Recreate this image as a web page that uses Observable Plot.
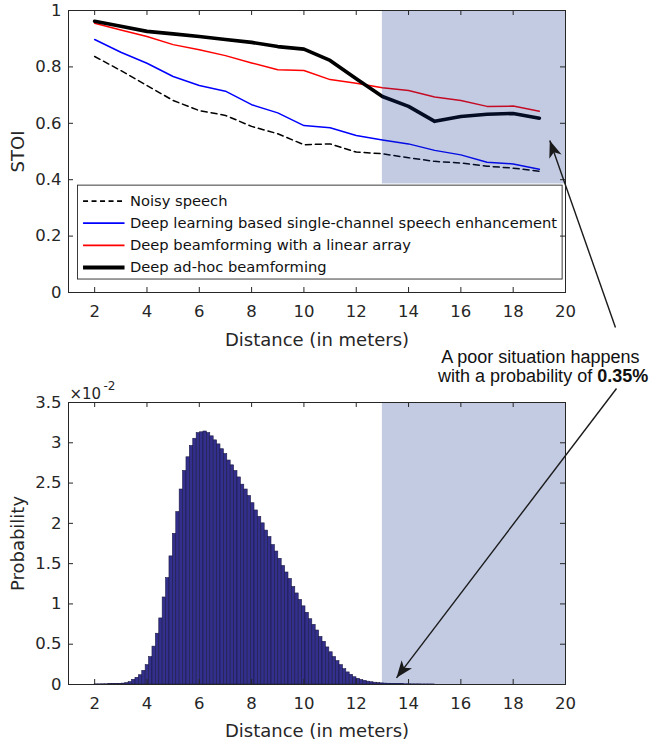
<!DOCTYPE html>
<html><head><meta charset="utf-8">
<script src="https://cdn.jsdelivr.net/npm/d3@7"></script>
<script src="https://cdn.jsdelivr.net/npm/@observablehq/plot@0.6"></script>
<style>
body{margin:0;background:#fff;}
#fig{position:relative;width:650px;height:741px;background:#fff;}
#fig svg{display:block;}
</style></head><body><div id="fig"></div>
<script>
// ---------- data ----------
const distances = [2,3,4,5,6,7,8,9,10,11,12,13,14,15,16,17,18,19];
const noisySpeech   = [0.837,0.787,0.734,0.681,0.645,0.628,0.589,0.563,0.524,0.527,0.498,0.492,0.478,0.465,0.459,0.448,0.441,0.430];
const singleChannel = [0.897,0.852,0.813,0.766,0.734,0.714,0.666,0.637,0.592,0.584,0.557,0.541,0.527,0.504,0.488,0.462,0.456,0.437];
const linearArray   = [0.955,0.931,0.908,0.879,0.861,0.840,0.814,0.790,0.787,0.755,0.742,0.726,0.716,0.693,0.681,0.660,0.661,0.643];
const adHoc         = [0.962,0.944,0.926,0.917,0.908,0.897,0.887,0.872,0.863,0.823,0.758,0.695,0.660,0.607,0.624,0.632,0.635,0.618];
const seriesNames = ["Noisy speech","Deep learning based single-channel speech enhancement","Deep beamforming with a linear array","Deep ad-hoc beamforming"];

const xTicks = [2,4,6,8,10,12,14,16,18,20];
const stoiTicks = [0,0.2,0.4,0.6,0.8,1];
const probTicks = [0,0.5,1,1.5,2,2.5,3,3.5];

// histogram of distances (probability, in units of 10^-2), bins of width 0.13 starting at 2
const binStart = 2, binWidth = 0.13;
const probability = [
0.002,0.002,0.003,0.003,0.004,0.005,0.006,0.008,0.011,0.017,
0.029,0.058,0.083,0.115,0.17,0.24,0.34,0.47,0.63,0.82,
1.08,1.32,1.59,1.87,2.14,2.42,2.65,2.82,2.96,3.05,
3.12,3.13,3.14,3.12,3.08,3.03,2.98,2.92,2.86,2.78,
2.72,2.65,2.57,2.48,2.42,2.34,2.25,2.16,2.08,2.00,
1.91,1.83,1.73,1.65,1.56,1.47,1.39,1.31,1.21,1.13,
1.05,0.97,0.89,0.81,0.74,0.67,0.59,0.53,0.46,0.40,
0.34,0.29,0.24,0.19,0.15,0.12,0.09,0.07,0.055,0.045,
0.035,0.028,0.022,0.018,0.014,0.011,0.009,0.007,0.006,0.005,
0.004,0.003,0.003,0.002,0.002,0.002,0.001,0.001,0.001,0.001];

const poorFrom = 13, poorTo = 20;      // poor-situation distance range
const poorStoiBottom = 0.385;          // lower edge of shaded box in the STOI panel
const annotationLine1 = "A poor situation happens";
const annotationLine2 = "with a probability of ";
const annotationValue = "0.35%";

// ---------- layout ----------
const W = 650, ML = 68, MR = 85;
const topH = 350, topMT = 10, topMB = 58;
const botH = 391, botMT = 52, botMB = 57;
const axisColor = "#262626";
const font = "DejaVu Sans";

const xScale = Plot.scale({x: {domain: [1, 20], range: [ML, W - MR]}});
const yTopScale = Plot.scale({y: {domain: [0, 1], range: [topH - topMB, topMT]}});
const yBotScale = Plot.scale({y: {domain: [0, 3.5], range: [botH - botMB, botMT]}});

function headAngle(xs, ys, a) {
  const dx = xs.apply(a.x2) - xs.apply(a.x1);
  const dy = ys.apply(a.y2) - ys.apply(a.y1);
  return Math.atan2(dx, -dy) * 180 / Math.PI;
}
const arrowHead = {draw(ctx) {
  ctx.moveTo(0, 0); ctx.lineTo(6.5, 17); ctx.lineTo(0, 12.5); ctx.lineTo(-6.5, 17); ctx.closePath();
}};

const series = [
  {name: seriesNames[0], values: noisySpeech,   color: "#000000", width: 1.5, dash: "6,4"},
  {name: seriesNames[1], values: singleChannel, color: "#0000ff", width: 1.5, dash: null},
  {name: seriesNames[2], values: linearArray,   color: "#ff0000", width: 1.5, dash: null},
  {name: seriesNames[3], values: adHoc,         color: "#000000", width: 3.6, dash: null}
];
const legendRows = [0.324, 0.246, 0.167, 0.089];
const legendBox = {x1: 1.364, x2: 19.89, y1: 0.046, y2: 0.379};

const topArrow = {x1: 21.91, y1: -0.124, x2: 19.40, y2: 0.539};
const botArrow = {x1: 21.95, y1: 3.674, x2: 13.54, y2: 0.083};

function frameMarks(innerW, innerH, yTicks, labelDy) {
  return [
    Plot.frame({stroke: axisColor, strokeWidth: 1}),
    Plot.tickX(xTicks, {x: d => d, stroke: axisColor, insetTop: innerH - 5}),
    Plot.tickX(xTicks, {x: d => d, stroke: axisColor, insetBottom: innerH - 5}),
    Plot.tickY(yTicks, {y: d => d, stroke: axisColor, insetRight: innerW - 5}),
    Plot.tickY(yTicks, {y: d => d, stroke: axisColor, insetLeft: innerW - 5}),
    Plot.axisX(xTicks, {tickSize: 0, tickPadding: 13, fontSize: 16.5, label: null, tickFormat: d => String(d)}),
    Plot.axisY(yTicks, {tickSize: 0, tickPadding: 7, fontSize: 16.5, label: null, tickFormat: d => String(d)}),
    Plot.text(["Distance (in meters)"], {frameAnchor: "bottom", dy: labelDy, textAnchor: "middle", lineAnchor: "bottom", fontSize: 18, fill: axisColor})
  ];
}

// ---------- top panel ----------
const topInnerW = W - ML - MR, topInnerH = topH - topMT - topMB;
const topChart = Plot.plot({
  width: W, height: topH,
  marginLeft: ML, marginRight: MR, marginTop: topMT, marginBottom: topMB,
  x: {domain: [1, 20]}, y: {domain: [0, 1]},
  style: {fontFamily: font, fontSize: "16px", color: axisColor, background: "white"},
  marks: [
    ...series.map(s => Plot.line(distances.map((d, i) => ({d, v: s.values[i]})), {
      x: "d", y: "v", stroke: s.color, strokeWidth: s.width, strokeDasharray: s.dash
    })),
    Plot.rect([{x1: poorFrom, x2: poorTo, y1: poorStoiBottom, y2: 1}], {
      x1: "x1", x2: "x2", y1: "y1", y2: "y2", fill: "#0f2f8f", fillOpacity: 0.25
    }),
    Plot.rect([legendBox], {x1: "x1", x2: "x2", y1: "y1", y2: "y2", fill: "white", stroke: axisColor, strokeWidth: 0.9}),
    ...series.map((s, i) => Plot.link([{y: legendRows[i]}], {
      x1: () => 1.556, x2: () => 3.142, y1: "y", y2: "y",
      stroke: s.color, strokeWidth: s.width === 1.5 ? 1.6 : 4, strokeDasharray: s.dash ? "5,3.5" : null
    })),
    Plot.text(series.map((s, i) => ({name: s.name, y: legendRows[i]})), {
      x: () => 3.35, y: "y", text: "name", textAnchor: "start", fontSize: 14.7, fill: "#111"
    }),
    ...frameMarks(topInnerW, topInnerH, stoiTicks, 53),
    Plot.text(["STOI"], {frameAnchor: "left", dx: -50, rotate: -90, textAnchor: "middle", lineAnchor: "middle", fontSize: 18, fill: axisColor}),
    Plot.link([topArrow], {x1: "x1", y1: "y1", x2: "x2", y2: "y2", stroke: "#1a1a1a", strokeWidth: 1.4}),
    Plot.dot([topArrow], {x: "x2", y: "y2", symbol: arrowHead, rotate: headAngle(xScale, yTopScale, topArrow), fill: "#1a1a1a", stroke: "none"})
  ]
});

// ---------- bottom panel ----------
const bins = probability.map((p, i) => ({x1: binStart + i * binWidth, x2: binStart + (i + 1) * binWidth, p}));
const botInnerW = W - ML - MR, botInnerH = botH - botMT - botMB;
const botChart = Plot.plot({
  width: W, height: botH,
  marginLeft: ML, marginRight: MR, marginTop: botMT, marginBottom: botMB,
  x: {domain: [1, 20]}, y: {domain: [0, 3.5]},
  style: {fontFamily: font, fontSize: "16px", color: axisColor, background: "white", overflow: "visible"},
  marks: [
    Plot.rect(bins, {x1: "x1", x2: "x2", y1: 0, y2: "p", fill: "#332f8c", stroke: "#1c1a44", strokeWidth: 0.6}),
    Plot.rect([{x1: poorFrom, x2: poorTo, y1: 0, y2: 3.5}], {
      x1: "x1", x2: "x2", y1: "y1", y2: "y2", fill: "#0f2f8f", fillOpacity: 0.25
    }),
    ...frameMarks(botInnerW, botInnerH, probTicks, 52),
    Plot.text(["Probability"], {frameAnchor: "left", dx: -50, rotate: -90, textAnchor: "middle", lineAnchor: "middle", fontSize: 18, fill: axisColor}),
    Plot.text(["\u00d710"], {frameAnchor: "top-left", dx: 1, dy: -4, textAnchor: "start", lineAnchor: "bottom", fontSize: 15, fill: axisColor}),
    Plot.text(["-2"], {frameAnchor: "top-left", dx: 35, dy: -13, textAnchor: "start", lineAnchor: "bottom", fontSize: 12, fill: axisColor}),
    Plot.text([annotationLine1], {x: () => 19.04, y: () => 3.996, lineAnchor: "bottom", textAnchor: "middle", fontFamily: "Liberation Sans", fontSize: 18, fill: "#111"}),
    Plot.text([annotationLine2], {x: () => 21.21, y: () => 3.76, lineAnchor: "bottom", textAnchor: "end", fontFamily: "Liberation Sans", fontSize: 18, fill: "#111"}),
    Plot.text([annotationValue], {x: () => 21.21, y: () => 3.76, lineAnchor: "bottom", textAnchor: "start", fontFamily: "Liberation Sans", fontWeight: "bold", fontSize: 18, fill: "#111"}),
    Plot.link([botArrow], {x1: "x1", y1: "y1", x2: "x2", y2: "y2", stroke: "#1a1a1a", strokeWidth: 1.4}),
    Plot.dot([botArrow], {x: "x2", y: "y2", symbol: arrowHead, rotate: headAngle(xScale, yBotScale, botArrow), fill: "#1a1a1a", stroke: "none"})
  ]
});

const fig = document.getElementById("fig");
fig.appendChild(topChart);
fig.appendChild(botChart);
</script>
</body></html>
